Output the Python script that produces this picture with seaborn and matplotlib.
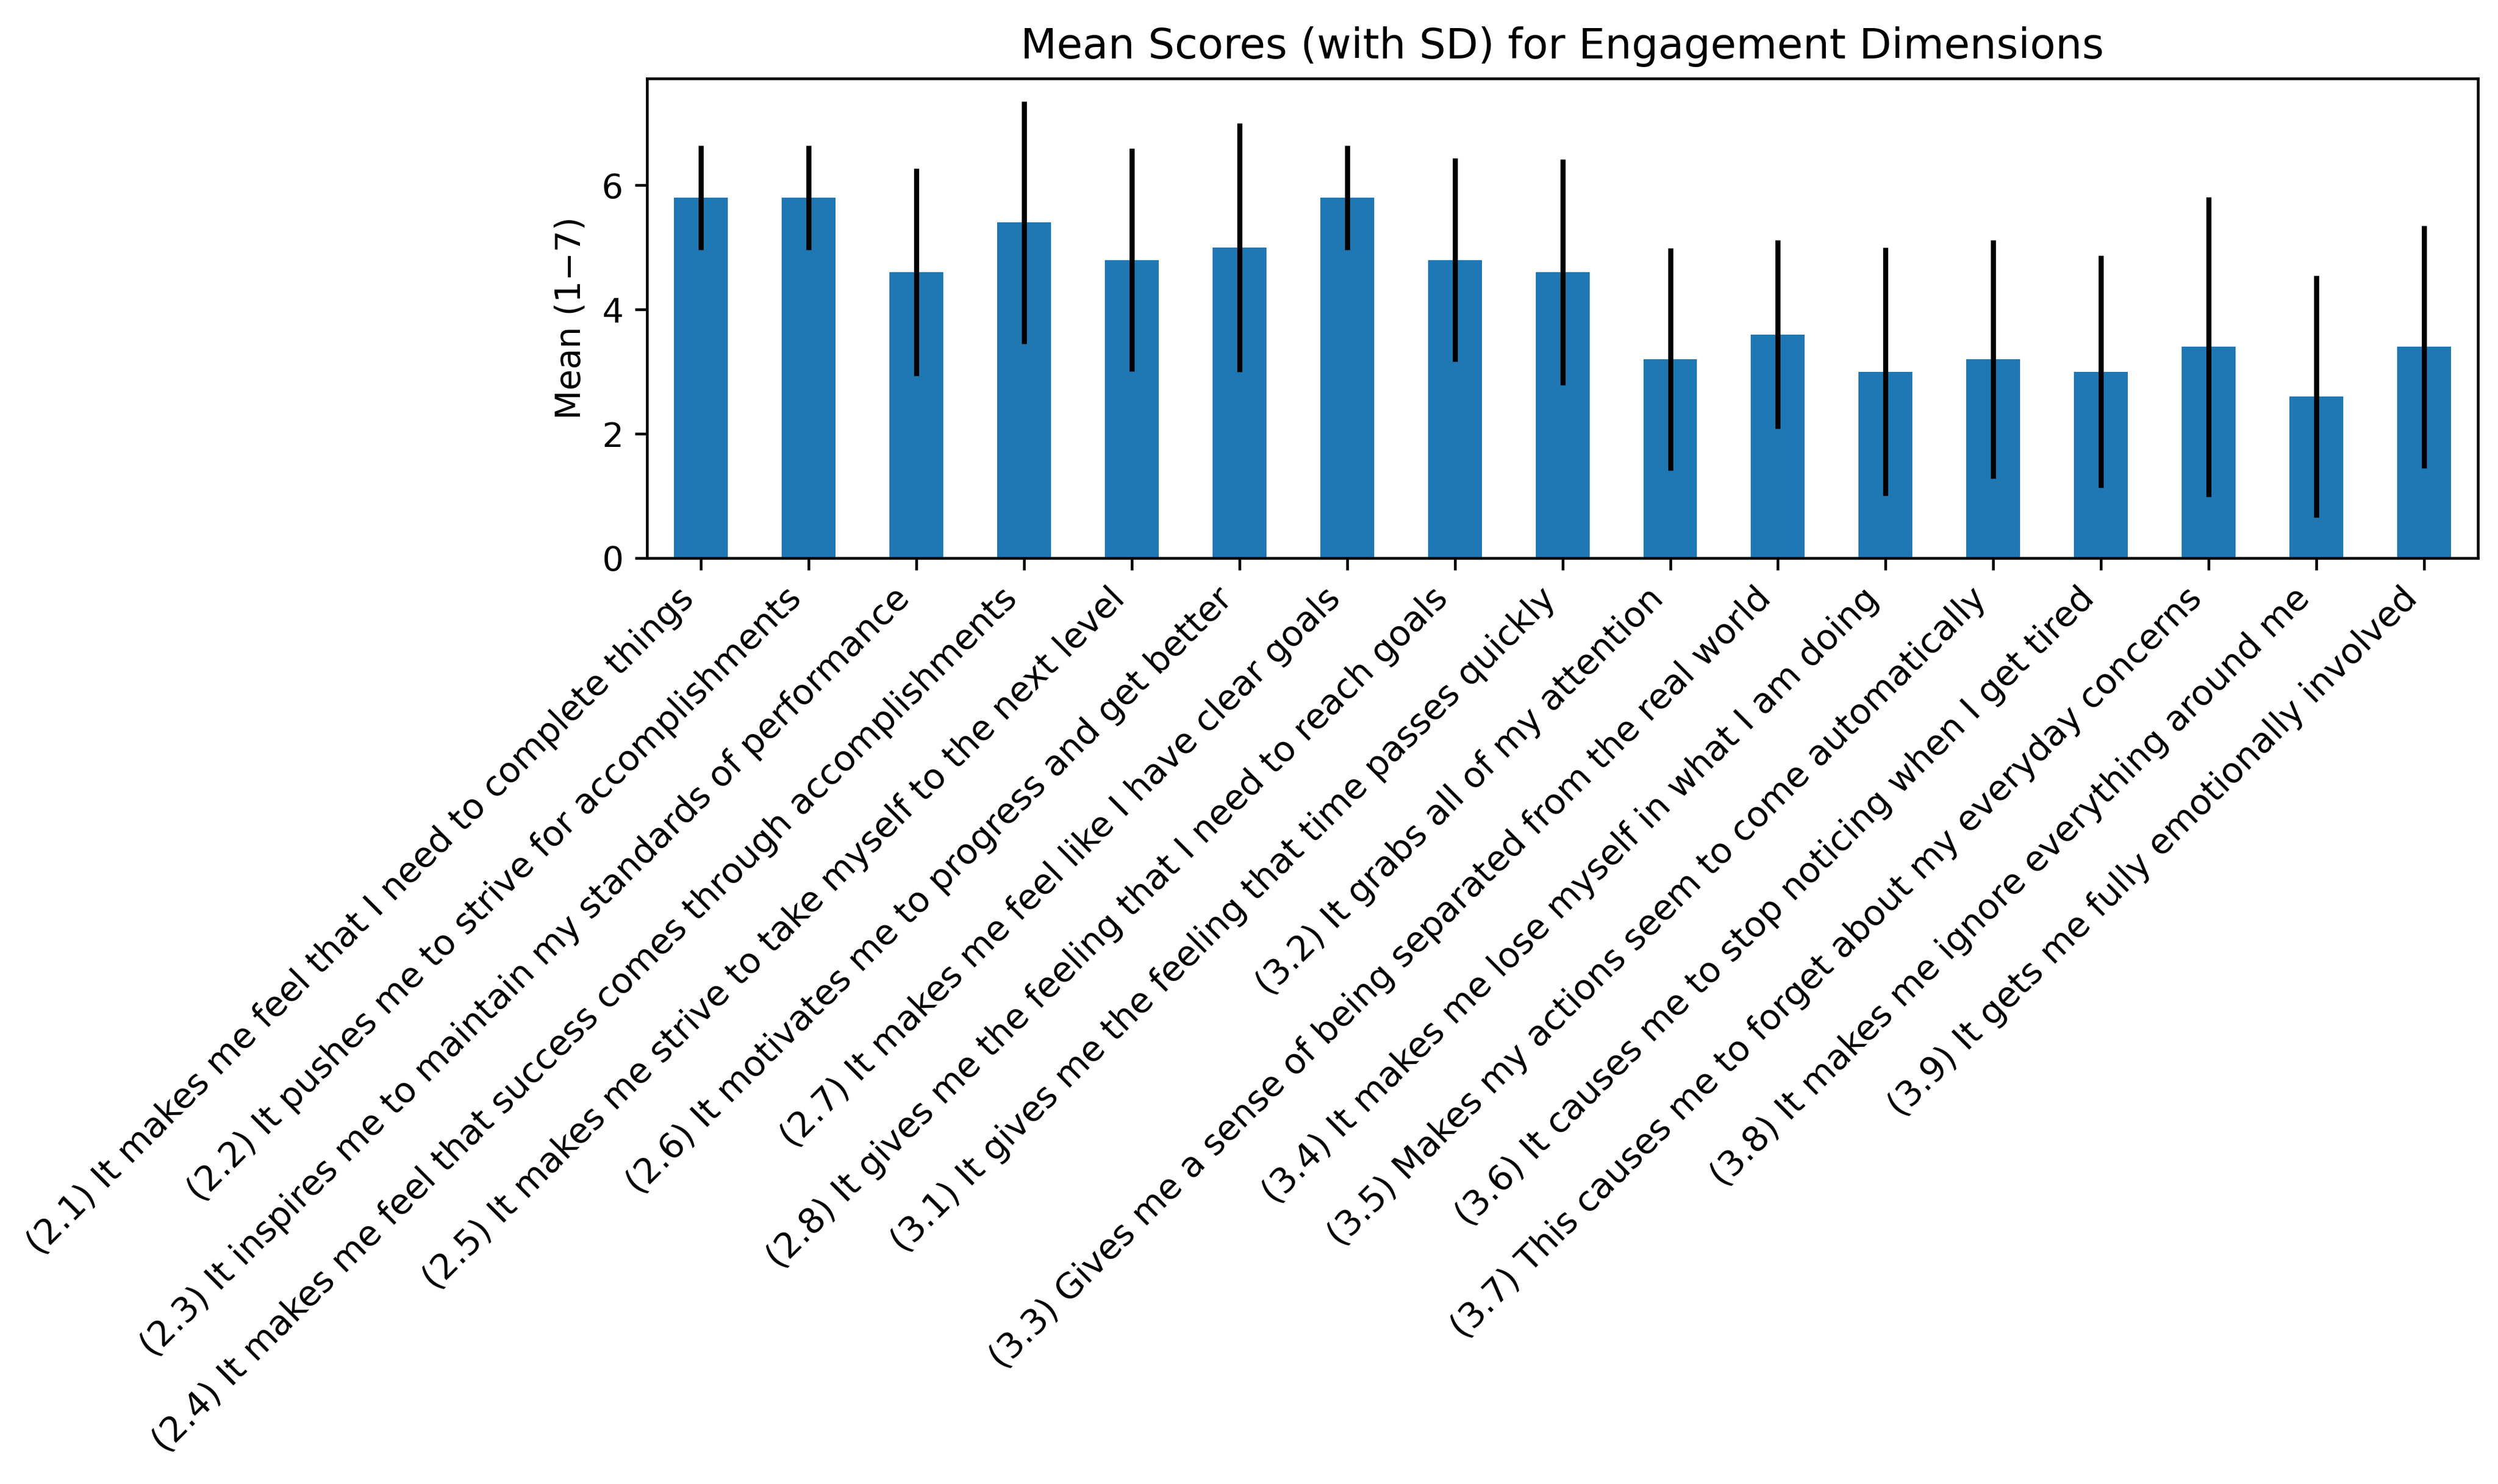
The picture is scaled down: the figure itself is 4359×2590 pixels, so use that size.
import matplotlib
matplotlib.use("Agg")
import matplotlib.pyplot as plt
import seaborn as sns

# Engagement items (x categories)
items = [
    "(2.1) It makes me feel that I need to complete things",
    "(2.2) It pushes me to strive for accomplishments",
    "(2.3) It inspires me to maintain my standards of performance",
    "(2.4) It makes me feel that success comes through accomplishments",
    "(2.5) It makes me strive to take myself to the next level",
    "(2.6) It motivates me to progress and get better",
    "(2.7) It makes me feel like I have clear goals",
    "(2.8) It gives me the feeling that I need to reach goals",
    "(3.1) It gives me the feeling that time passes quickly",
    "(3.2) It grabs all of my attention",
    "(3.3) Gives me a sense of being separated from the real world",
    "(3.4) It makes me lose myself in what I am doing",
    "(3.5) Makes my actions seem to come automatically",
    "(3.6) It causes me to stop noticing when I get tired",
    "(3.7) This causes me to forget about my everyday concerns",
    "(3.8) It makes me ignore everything around me",
    "(3.9) It gets me fully emotionally involved",
]

# Mean scores and standard deviations
means = [5.8, 5.8, 4.6, 5.4, 4.8, 5.0, 5.8, 4.8, 4.6,
         3.2, 3.6, 3.0, 3.2, 3.0, 3.4, 2.6, 3.4]
sds = [0.84, 0.84, 1.67, 1.95, 1.79, 2.00, 0.84, 1.64, 1.82,
       1.79, 1.52, 2.00, 1.92, 1.87, 2.41, 1.95, 1.95]

DPI = 425
fig = plt.figure(figsize=(4359 / DPI, 2590 / DPI), dpi=DPI)
ax = fig.add_axes([0.259, 0.624, 0.733, 0.323])

sns.barplot(x=items, y=means, color="#1f77b4", saturation=1, width=0.5,
            errorbar=None, ax=ax)
ax.errorbar(range(len(items)), means, yerr=sds, fmt="none",
            ecolor="black", elinewidth=1.5)

ax.set_title("Mean Scores (with SD) for Engagement Dimensions", fontsize=12.4)
ax.set_ylabel("Mean (1\u22127)", fontsize=10.1)
ax.set_xlim(-0.5, len(items) - 0.5)
plt.setp(ax.get_xticklabels(), rotation=45, ha="right", fontsize=10.35)

fig.savefig("out.png", dpi=DPI)
plt.close(fig)
